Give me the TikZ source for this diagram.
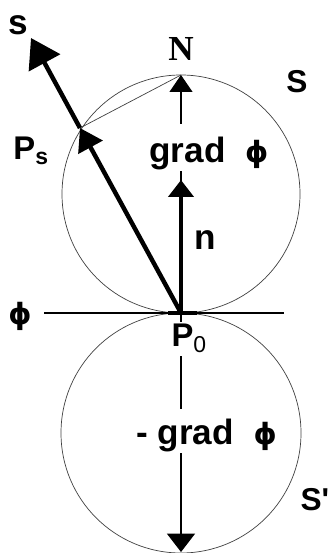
\documentclass[tikz,border=0pt]{standalone}
\usepackage{fontspec}
\setmainfont{Liberation Sans}
\newfontfamily\serifN{Liberation Serif}
\newfontfamily\plainsans{Liberation Sans}
\newfontfamily\phifont{DejaVu Sans}
\newcommand\gphi{{\phifont\bfseries\fontsize{25}{28}\selectfont ϕ}}
\usepackage{tikz}
\usetikzlibrary{arrows.meta,positioning}
\tikzset{
  gcirc/.style={draw=black!75, line width=0.6pt},
  gthin/.style={black, line width=0.9pt},
  gthick/.style={black, line width=3.8pt},
  glbl/.style={font=\fontsize{30}{32}\selectfont\bfseries, inner sep=1pt},
  gsmall/.style={font=\fontsize{28}{30}\selectfont\bfseries, inner sep=1pt},
  gcut/.style={fill=white, inner sep=2pt},
  gup/.style={-{Triangle[length=5.1mm,width=6.9mm]}},
  gdown/.style={-{Triangle[length=5.5mm,width=8.4mm]}},
  gnorm/.style={-{Triangle[length=5.1mm,width=7.5mm]}},
  gsbig/.style={-{Triangle[length=8.5mm,width=10.5mm]}},
  gsmid/.style={-{Triangle[length=6.6mm,width=8.1mm]}},
}

\begin{document}
\begin{tikzpicture}[x=1cm,y=1cm]
  \useasboundingbox (0,0) rectangle (9.93,16.59);

  % pontos
  \coordinate (P0) at (5.43,7.20);
  \coordinate (N) at (5.43,14.34);
  \coordinate (Ps) at (2.40,12.75);
  \coordinate (stip) at (0.93,15.45);
  \coordinate (ntip) at (5.43,11.19);
  \coordinate (gtip) at (5.43,0.03);
  \coordinate (tl) at (1.32,7.20);
  \coordinate (tr) at (8.52,7.20);

  % esferas S e S'
  \draw[gcirc] (5.43,10.77) circle[radius=3.57cm];
  \draw[gcirc] (5.43,3.60) circle[radius=3.60cm];

  % plano tangente
  \draw[gthin] (tl) -- (tr);
  \draw[gthick, line width=3.4pt] (5.04,7.20) -- (5.91,7.20);

  % corda Ps--N
  \draw[gcirc] (Ps) -- (N);

  % gradientes
  \draw[gthin, gup] (P0) -- (N);
  \draw[gthin, gdown] (P0) -- (gtip);

  % direcao s e normal n
  \draw[gthick, gsmid] (P0) -- (Ps);
  \draw[gthick, gsbig] (Ps) -- (stip);
  \draw[gthick, gnorm] (P0) -- (ntip);

  % rotulos
  \node[glbl, gcut, inner sep=1pt, text height=32pt, text depth=6pt, anchor=base west] (lgrad) at (4.44,11.70) {grad\ \ \gphi};
  \node[glbl, gcut, inner sep=1pt, text height=30pt, text depth=6pt, anchor=base west] (lmgrad) at (4.05,3.24) {-\ grad\ \ \gphi};
  \node[gsmall, gcut, anchor=base west] (lP0) at (5.07,6.18) {P\textsubscript{\mdseries 0}};
  \node[gsmall, anchor=base west] (lPs) at (0.36,11.79) {P\textsubscript{s}};
  \node[glbl] (ls) at (0.54,15.84) {s};
  \node[font=\fontsize{30}{32}\selectfont\serifN\bfseries, inner sep=1pt, above=3.8mm of N] (lN) {N};
  \node[gsmall, font=\fontsize{27}{30}\selectfont\bfseries] (lS) at (8.91,14.13) {S};
  \node[glbl] (ln) at (6.15,9.39) {n};
  \node[glbl] (lphi) at (0.60,7.11) {\gphi};
  \node[gsmall, font=\fontsize{27}{30}\selectfont\plainsans\bfseries, anchor=east] (lSp) at (9.92,1.59) {S'};

\end{tikzpicture}
\end{document}
